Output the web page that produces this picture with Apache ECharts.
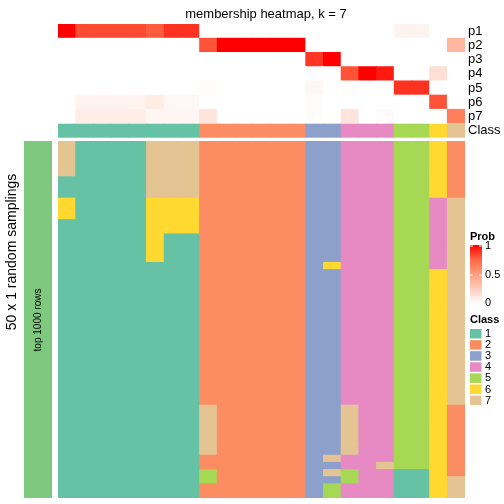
<!DOCTYPE html>
<html><head><meta charset="utf-8">
<script src="https://cdn.jsdelivr.net/npm/echarts@6/dist/echarts.min.js"></script>
<style>html,body{margin:0;padding:0;background:#fff}#c{width:504px;height:504px}</style>
</head><body><div id="c"></div>
<script>
// ---- data ----
const probRows = ['p1','p2','p3','p4','p5','p6','p7'];
const classLevels = ['1','2','3','4','5','6','7'];
const classColors = ['#66C2A5','#FC8D62','#8DA0CB','#E78AC3','#A6D854','#FFD92F','#E5C494'];
// membership probability per sample column (23 columns)
const p1 = [1.00,0.82,0.82,0.82,0.82,0.78,0.88,0.88, 0,0,0,0,0,0, 0,0, 0,0,0, 0.06,0.06, 0, 0];
const p2 = [0,0,0,0,0,0,0,0, 0.80,1,1,1,1,1, 0,0, 0,0,0, 0,0, 0, 0.38];
const p3 = [0,0,0,0,0,0,0,0, 0,0,0,0,0,0, 0.87,1.00, 0,0,0, 0,0, 0, 0];
const p4 = [0,0,0,0,0,0,0,0, 0,0,0,0,0,0, 0,0, 0.80,1.00,0.94, 0,0, 0.17, 0];
const p5 = [0,0,0,0,0,0,0,0, 0.01,0,0,0,0,0, 0.04,0, 0.01,0,0, 0.88,0.88, 0, 0];
const p6 = [0,0.06,0.06,0.06,0.06,0.10,0.04,0.04, 0,0,0,0,0,0, 0.01,0, 0,0,0, 0,0, 0.80, 0];
const p7 = [0,0.09,0.09,0.09,0.09,0.05,0.05,0.05, 0.14,0,0,0,0,0, 0.01,0, 0.14,0,0.02, 0,0, 0, 0.65];
const probData = [p1,p2,p3,p4,p5,p6,p7];
// consensus class per column
const classAnno = [1,1,1,1,1,1,1,1, 2,2,2,2,2,2, 3,3, 4,4,4, 5,5, 6, 7];
// class of each sampling (50 rows) per column, as runs [class, count]
const col00 = [[7,5],[1,3],[6,3],[1,39]];
const col01 = [[1,50]];
const col02 = [[1,50]];
const col03 = [[1,50]];
const col04 = [[1,50]];
const col05 = [[7,8],[6,9],[1,33]];
const col06 = [[7,8],[6,5],[1,37]];
const col07 = [[7,8],[6,5],[1,37]];
const col08 = [[2,37],[7,7],[2,2],[5,2],[2,2]];
const col09 = [[2,50]];
const col10 = [[2,50]];
const col11 = [[2,50]];
const col12 = [[2,50]];
const col13 = [[2,50]];
const col14 = [[3,50]];
const col15 = [[3,17],[6,1],[3,26],[7,1],[3,1],[7,1],[3,1],[5,2]];
const col16 = [[4,37],[7,7],[4,2],[5,2],[4,2]];
const col17 = [[4,50]];
const col18 = [[4,45],[7,1],[4,4]];
const col19 = [[5,46],[1,4]];
const col20 = [[5,46],[1,4]];
const col21 = [[6,8],[4,10],[6,32]];
const col22 = [[2,8],[7,29],[2,10],[7,3]];
const sampleCols = [col00,col01,col02,col03,col04,col05,col06,col07,col08,col09,col10,col11,col12,col13,col14,col15,col16,col17,col18,col19,col20,col21,col22];
const nRows = 50;
const legendProbTicks = ['1','0.5','0'];

// ---- build ----
const nCols = sampleCols.length;
const colIdx = Array.from({length:nCols},(_,i)=>i);
const rowIdx = Array.from({length:nRows},(_,i)=>i);
const probSeries = [];
probData.forEach((arr,r)=>arr.forEach((v,c)=>probSeries.push([c,r,v])));
const annoSeries = classAnno.map((v,c)=>[c,0,v]);
const mainSeries = [];
sampleCols.forEach((runs,c)=>{
  let r=0;
  runs.forEach(([cl,n])=>{ for(let k=0;k<n;k++){ mainSeries.push([c,r,cl]); r++; } });
});
const FONT = 'Liberation Sans, Arial, Helvetica, sans-serif';
const hiddenX = (gi)=>({type:'category',gridIndex:gi,data:colIdx,show:false});
const probStops = ['#FFFFFF','#FFCFBF','#FF9E81','#FF6846','#FF0000'];

function cellRender(params, api){
  const c = api.coord([api.value(0), api.value(1)]);
  const s = api.size([1,1]);
  const rect = echarts.graphic.clipRectByRect({
    x:c[0]-s[0]/2-0.4, y:c[1]-s[1]/2-0.4, width:s[0]+0.8, height:s[1]+0.8
  },{x:params.coordSys.x,y:params.coordSys.y,width:params.coordSys.width,height:params.coordSys.height});
  return rect && {type:'rect',shape:rect,style:{fill:api.visual('color')}};
}
const cellSeries = (xi,yi,data)=>({type:'custom',xAxisIndex:xi,yAxisIndex:yi,data:data,
  renderItem:cellRender,encode:{x:0,y:1},silent:true});

const chart = echarts.init(document.getElementById('c'),null,{renderer:'canvas'});
const classPieces = classColors.map((col,i)=>({value:i+1,color:col}));
classPieces.push({value:0,color:'#7FC97F'});
chart.setOption({
  animation:false,
  textStyle:{fontFamily:FONT},
  title:{text:'membership heatmap, k = 7',left:261,top:3,textAlign:'center',
    textStyle:{fontSize:13,fontWeight:'normal',color:'#000',fontFamily:FONT}},
  grid:[
    {left:58,top:24,width:407,height:99.5},
    {left:58,top:123.7,width:407,height:14},
    {left:58,top:141,width:407,height:357},
    {left:24,top:141,width:28,height:357}
  ],
  xAxis:[hiddenX(0),hiddenX(1),hiddenX(2),{type:'category',gridIndex:3,data:[0],show:false}],
  yAxis:[
    {type:'category',gridIndex:0,data:probRows,inverse:true,position:'right',
      axisLine:{show:false},axisTick:{show:false},splitLine:{show:false},
      axisLabel:{interval:0,fontSize:13,color:'#000',margin:3,fontFamily:FONT}},
    {type:'category',gridIndex:1,data:['Class'],position:'right',
      axisLine:{show:false},axisTick:{show:false},
      axisLabel:{interval:0,fontSize:13,color:'#000',margin:3,fontFamily:FONT}},
    {type:'category',gridIndex:2,data:rowIdx,inverse:true,show:false},
    {type:'category',gridIndex:3,data:[0],show:false}
  ],
  visualMap:[
    {type:'continuous',min:0,max:1,dimension:2,seriesIndex:0,show:false,inRange:{color:probStops}},
    {type:'piecewise',dimension:2,seriesIndex:[1,2,3],show:false,pieces:classPieces}
  ],
  series:[
    cellSeries(0,0,probSeries),
    cellSeries(1,1,annoSeries),
    cellSeries(2,2,mainSeries),
    cellSeries(3,3,[[0,0,0]])
  ],
  graphic:[
    {type:'text',z:100,x:12,y:252,rotation:Math.PI/2,style:{text:'50 x 1 random samplings',fontSize:14,fill:'#000',fontFamily:FONT,align:'center',verticalAlign:'middle'}},
    {type:'text',z:100,x:38,y:320,rotation:Math.PI/2,style:{text:'top 1000 rows',fontSize:10,fill:'#000',fontFamily:FONT,align:'center',verticalAlign:'middle'}},
    // Prob legend
    {type:'text',z:100,x:470,y:237,style:{text:'Prob',fontSize:11,fontWeight:'bold',fill:'#000',fontFamily:FONT,verticalAlign:'middle'}},
    {type:'rect',z:100,shape:{x:470,y:245,width:12,height:59},style:{fill:new echarts.graphic.LinearGradient(0,0,0,1,[
      {offset:0,color:probStops[4]},{offset:0.25,color:probStops[3]},{offset:0.5,color:probStops[2]},{offset:0.75,color:probStops[1]},{offset:1,color:probStops[0]}])}},
    {type:'line',z:101,shape:{x1:470,y1:246,x2:473,y2:246},style:{stroke:'#fff',lineWidth:1}},
    {type:'line',z:101,shape:{x1:479,y1:246,x2:482,y2:246},style:{stroke:'#fff',lineWidth:1}},
    {type:'line',z:101,shape:{x1:470,y1:275,x2:473,y2:275},style:{stroke:'#fff',lineWidth:1}},
    {type:'line',z:101,shape:{x1:479,y1:275,x2:482,y2:275},style:{stroke:'#fff',lineWidth:1}},
    {type:'text',z:100,x:485,y:246,style:{text:legendProbTicks[0],fontSize:11,fill:'#000',fontFamily:FONT,verticalAlign:'middle'}},
    {type:'text',z:100,x:485,y:275,style:{text:legendProbTicks[1],fontSize:11,fill:'#000',fontFamily:FONT,verticalAlign:'middle'}},
    {type:'text',z:100,x:485,y:303,style:{text:legendProbTicks[2],fontSize:11,fill:'#000',fontFamily:FONT,verticalAlign:'middle'}},
    // Class legend
    {type:'text',z:100,x:470,y:320,style:{text:'Class',fontSize:11,fontWeight:'bold',fill:'#000',fontFamily:FONT,verticalAlign:'middle'}}
  ].concat(classLevels.flatMap((lab,i)=>[
    {type:'rect',z:100,shape:{x:470,y:329+i*11.1,width:11.5,height:9.5},style:{fill:classColors[i]}},
    {type:'text',z:100,x:485,y:334+i*11.1,style:{text:lab,fontSize:11,fill:'#000',fontFamily:FONT,verticalAlign:'middle'}}
  ]))
});
</script></body></html>
